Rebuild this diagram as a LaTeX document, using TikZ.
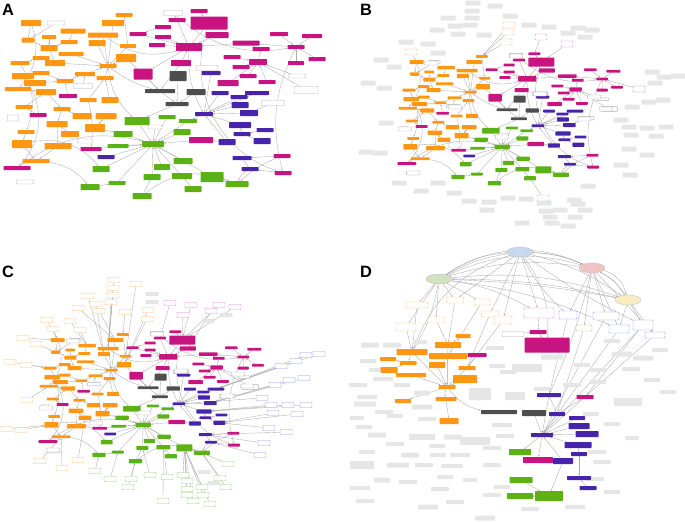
\documentclass[tikz,border=0pt]{standalone}
\usepackage{fontspec}
\setsansfont{Liberation Sans}
\usetikzlibrary{arrows.meta,shapes.geometric}
\pgfdeclarelayer{bg}
\pgfsetlayers{bg,main}
\definecolor{orng}{RGB}{255,150,20}
\definecolor{magn}{RGB}{200,20,128}
\definecolor{purp}{RGB}{72,36,170}
\definecolor{grn}{RGB}{92,178,20}
\definecolor{dgry}{RGB}{78,78,78}
\definecolor{lorng}{RGB}{255,190,120}
\definecolor{lpink}{RGB}{235,130,235}
\definecolor{lblue}{RGB}{150,150,245}
\definecolor{lgrn}{RGB}{150,205,125}
\definecolor{fog}{RGB}{230,230,230}
\definecolor{ebl}{RGB}{200,215,235}
\definecolor{epk}{RGB}{242,195,195}
\definecolor{egr}{RGB}{208,226,192}
\definecolor{eyl}{RGB}{250,236,190}

\tikzset{
  sz/.style 2 args={minimum width=#1*0.03cm, minimum height=#2*0.03cm},
  blk/.style={rectangle, rounded corners=0.6pt, inner sep=0pt, fill=#1, draw=none},
  wbox/.style={rectangle, rounded corners=0.6pt, inner sep=0pt, fill=white, draw=#1, line width=0.4pt},
  fogbox/.style={rectangle, rounded corners=0.6pt, inner sep=0pt, fill=fog, draw=none},
  stake/.style={ellipse, inner sep=0pt, fill=#1, draw=gray!50, line width=0.3pt},
  link/.style={draw=gray!65, line width=0.3pt, -{Stealth[length=1.5pt,width=1.3pt]}},
  plabel/.style={font=\sffamily\bfseries\fontsize{14}{14}\selectfont}
}

% the core network (panel A frame, pixel units)
\newcommand\drawnet[1]{%
  \foreach \n/\x/\y/\w/\h in {o1/31/23/20/6, o2/28/40/13/5, o3/49/37/14/4, o4/73/31/25/5,
      o5/69/42/17/4, o6/49/48/17/6, o7/71/54/25/4, o8/41/58/17/4, o9/20/63/19/4,
      o10/55/63/20/6, o11/113/23/22/6, o12/124/15/17/4, o13/103/35/30/5, o14/97/43/17/6,
      o15/128/46/16/4, o16/126/58/20/8, o17/108/66/17/4, o18/41/73/17/4, o19/23/76/22/6,
      o20/65/81/17/4, o21/35/83/22/6, o22/85/74/20/4, o23/105/78/17/4, o24/18/89/26/4,
      o25/46/92/20/6, o26/88/100/17/4, o27/110/100/17/6, o28/24/107/17/4, o29/62/109/17/4,
      o30/82/116/19/6, o31/106/116/21/6, o32/57/124/21/6, o33/95/128/20/8, o34/26/132/17/4,
      o35/70/134/18/6, o36/22/144/20/8, o37/58/146/27/6, o38/36/161/27/4}
    \node[blk=orng, sz={\w}{\h}] (#1-\n) at (\x,\y) {};
  \foreach \n/\x/\y/\w/\h in {m1/199/11/17/4, m2/177/20/17/4, m3/209/23/37/13, m4/138/34/17/4,
      m5/163/27/16/4, m6/163/37/16/4, m7/157/45/16/4, m8/189/47/26/8, m9/217/35/23/6,
      m10/246/43/27/5, m11/279/34/18/4, m12/312/36/20/4, m13/296/47/17/4, m14/261/49/17/4,
      m15/232/57/17/4, m16/241/67/17/4, m17/258/62/18/6, m18/317/59/17/4, m19/296/63/16/4,
      m20/181/63/20/6, m21/143/74/19/11, m22/228/83/21/6, m23/248/76/17/4, m24/267/82/17/4,
      m25/68/96/18/4, m26/38/115/17/4, m27/201/140/24/6, m28/91/149/21/4, m29/282/156/17/4,
      m30/283/173/17/4, m31/17/168/27/4}
    \node[blk=magn, sz={\w}{\h}] (#1-\n) at (\x,\y) {};
  \foreach \n/\x/\y/\w/\h in {k1/178/76/17/10, k2/160/91/30/4, k3/196/92/19/6, k4/177/104/23/4}
    \node[blk=dgry, sz={\w}{\h}] (#1-\n) at (\x,\y) {};
  \foreach \n/\x/\y/\w/\h in {p1/211/73/19/4, p2/220/93/17/4, p3/239/97/17/4, p4/257/93/24/4,
      p5/240/105/17/6, p6/204/114/18/4, p7/249/113/18/6, p8/240/125/22/6, p9/265/130/17/4,
      p10/242/134/17/4, p11/262/141/17/6, p12/227/142/17/6, p13/106/157/17/4,
      p14/242/158/19/4, p15/250/169/17/4}
    \node[blk=purp, sz={\w}{\h}] (#1-\n) at (\x,\y) {};
  \foreach \n/\x/\y/\w/\h in {g1/137/121/25/8, g2/167/117/17/4, g3/188/121/18/4, g4/123/134/19/6,
      g5/182/132/17/6, g6/153/144/22/6, g7/118/146/21/4, g8/183/161/19/6, g9/162/167/16/6,
      g10/101/169/17/6, g11/212/177/23/10, g12/182/176/20/6, g13/152/177/17/6,
      g14/117/183/17/4, g15/237/184/23/6, g16/90/187/19/6, g17/193/189/17/6, g18/142/196/19/6}
    \node[blk=grn, sz={\w}{\h}] (#1-\n) at (\x,\y) {};
  \foreach \n/\x/\y/\w/\h in {w1/56/23/17/4, w2/173/13/19/5, w3/83/86/19/5, w4/13/118/11/6,
      w5/85/141/15/4, w6/155/127/14/4, w7/25/182/17/4, w8/207/68/22/5, w9/273/103/23/5,
      w10/297/76/17/4, w11/306/90/24/7}
    \node[wbox=gray!60, sz={\w}{\h}] (#1-\n) at (\x,\y) {};
  \begin{pgfonlayer}{bg}
    \foreach \s/\t in {o1/o2, w1/o2, o3/o6, o2/o6, o4/o5, o5/o6, o6/o10, o8/o10, o9/o8,
        o10/o17, o7/o17, o11/o17, o12/o15, o13/o17, o14/o17, o15/o17, o16/o17, o22/o17,
        o23/o17, o26/o23, o27/o23, o18/o20, o19/o18, o20/o22, o21/o20, o24/o25, o25/o29,
        o28/o25, o29/o32, o30/o29, o31/o33, o32/o37, o33/o31, o34/o36, o35/o32, o36/o38,
        o37/o38, m25/o20, m26/o28, w3/o22,
        m5/m4, m4/m8, m6/m8, m7/m8, m2/m8, m3/m8, m1/m3, w2/m2, m9/m8, m10/m8, m14/m10,
        m13/m10, m11/m13, m12/m13, m18/m13, m19/m13, m17/m14, m15/m17, m16/m17, m22/m17,
        m23/m17, m24/m17, w10/m17, w11/m17, m20/m8, m8/m21,
        m21/k2, m20/k2, o16/k2, k1/k4, k2/k4, k3/k4, k4/g1, w8/p1,
        p1/p6, p2/p6, p3/p6, p4/p6, p5/p6, p7/p6, p8/p6, p12/p6, p9/p10, p10/p8, p11/p10,
        w9/p7, p14/p15, m29/p14, m30/p15,
        g1/g6, g2/g6, g3/g6, g4/g6, g5/g6, g7/g6, g8/g6, g9/g6, g10/g6, g11/g6, g12/g6,
        g13/g6, g14/g6, g16/g14, g17/g12, g18/g13, g15/g11, m27/g6, m28/g6, p13/g6, w6/g6,
        p6/g3, p12/m27, o33/g4}
      \draw[link] (#1-\s) -- (#1-\t);
    \foreach \s/\t/\b in {o19/m31/40, m31/g6/25, o17/g1/-20, m3/m30/-45, m29/g15/-10,
        g18/g15/30, m13/m30/-20, o1/o24/30, o13/m8/-25, w2/m13/-25, o36/g10/30, m8/p6/-15,
        o38/g16/20, p15/g15/-20, o26/m28/10, o9/o34/25, k2/o17/10}
      \draw[link] (#1-\s) to[bend left=\b] (#1-\t);
  \end{pgfonlayer}
}

\begin{document}
\begin{tikzpicture}[x=0.03cm, y=-0.03cm]
  \useasboundingbox (0,0) rectangle (685,522);

  % panel labels
  \node[plabel] (labA) at (8,10) {A};
  \node[plabel] (labB) at (366,10) {B};
  \node[plabel] (labC) at (8,272) {C};
  \node[plabel] (labD) at (366,272) {D};

  %% panel A
  \drawnet{A}

  %% panel B
  \foreach \x/\y in {473/3, 495/6, 472/11, 448/18, 472/18, 510/16, 437/30, 455/26, 470/25,
      458/34, 484/35, 529/25, 549/27, 568/33, 578/28, 592/30, 585/37, 406/42, 428/44, 438/53,
      381/60, 394/67, 368/83, 384/88, 652/72, 664/77, 678/76, 655/83, 649/102, 663/100,
      632/107, 621/120, 629/127, 647/128, 666/127, 631/135, 656/136, 629/149, 647/155,
      621/165, 630/175, 588/186, 386/123, 366/152, 380/153, 399/183, 421/191, 438/183,
      454/193, 469/201, 489/202, 487/210, 508/198, 526/199, 544/203, 546/211, 560/210,
      574/200, 578/204, 585/210, 550/217, 552/223, 522/223, 568/226, 575/217}
    \node[fogbox, sz={15}{5}] at (\x,\y) {};
  \begin{scope}[shift={(395,46)}, scale=0.7, transform shape]
    \drawnet{B}
  \end{scope}
  \foreach \n/\x/\y/\c/\t in {bs1/509/25/lorng/o12, bs2/508/32/lorng/o12, bs3/506/42/lorng/o12,
      bs4/411/52/lorng/o1, bs5/541/37/lpink/m1, bs6/567/44/lpink/m3, bs7/639/89/lblue/m13,
      bs8/543/198/lgrn/g17}
    \node[wbox=\c, sz={12}{6}] (\n) at (\x,\y) {};
  \begin{pgfonlayer}{bg}
    \foreach \n/\t in {bs1/o12, bs2/o12, bs3/o12, bs4/o1, bs5/m1, bs6/m3, bs7/m13, bs8/g17}
      \draw[link] (\n) -- (B-\t);
  \end{pgfonlayer}
  \foreach \x/\y in {516/56, 431/63, 540/94, 455/107, 606/109, 584/119, 405/129, 502/137,
      455/145, 594/97, 413/173}
    \node[wbox=gray!60, sz={13}{4}] at (\x,\y) {};

  %% panel C
  \foreach \x/\y in {152/294, 152/302, 208/321, 226/315, 204/472, 214/483}
    \node[fogbox, sz={13}{4}] at (\x,\y) {};
  \begin{scope}[shift={(36,324)}, scale=0.7, transform shape]
    \drawnet{C}
  \end{scope}
  \foreach \x/\y/\c/\t [count=\i] in {114/280/lorng/o13, 113/288/lorng/o13, 113/295/lorng/o13,
      111/302/lorng/o13, 136/284/lorng/o15, 88/296/lorng/o14, 96/304/lorng/o14,
      99/311/lorng/o11, 78/308/lorng/o11, 125/312/lorng/o12, 148/310/lorng/o16,
      147/319/lorng/o16, 47/320/lorng/o1, 53/329/lorng/o1, 70/321/lorng/o4, 80/330/lorng/o4,
      23/338/lorng/o1, 36/344/lorng/o2, 10/362/lorng/o9, 26/365/lorng/o9, 27/400/lorng/o24,
      7/429/lorng/o36, 21/430/lorng/o36, 40/461/lorng/o38, 62/468/lorng/o38, 78/460/lorng/o35,
      170/303/lpink/m2, 191/305/lpink/m3, 183/315/lpink/m3, 219/305/lpink/m3,
      235/307/lpink/m3, 211/311/lpink/m9,
      319/354/lblue/p4, 306/355/lblue/p4, 296/361/lblue/p4, 281/366/lblue/p4,
      304/378/lblue/p7, 289/380/lblue/p7, 275/385/lblue/p7, 262/398/lblue/p6,
      271/405/lblue/p8, 288/405/lblue/p8, 306/405/lblue/p8, 273/413/lblue/p11,
      297/414/lblue/p11, 269/428/lblue/p11, 286/432/lblue/p14, 264/443/lblue/p14,
      260/455/lblue/p15,
      228/464/lgrn/g15, 220/478/lgrn/g15, 226/487/lgrn/g15, 95/471/lgrn/g16,
      110/479/lgrn/g14, 131/479/lgrn/g18, 128/487/lgrn/g18, 150/475/lgrn/g13,
      167/477/lgrn/g12, 183/475/lgrn/g11, 187/481/lgrn/g11, 187/489/lgrn/g11,
      187/495/lgrn/g11, 193/501/lgrn/g11, 202/487/lgrn/g11, 203/495/lgrn/g11,
      210/504/lgrn/g11, 163/501/lgrn/g12}
  {
    \node[wbox=\c, sz={12}{5}] (cs\i) at (\x,\y) {};
    \begin{pgfonlayer}{bg}
      \draw[link] (cs\i) -- (C-\t);
    \end{pgfonlayer}
  }
  \foreach \x/\y in {157/334, 73/341, 181/371, 238/374, 247/386, 227/396, 46/408, 144/413,
      96/423, 53/450}
    \node[wbox=gray!60, sz={13}{4}] at (\x,\y) {};

  %% panel D
  \foreach \x/\y/\w/\h in {370/345/18/5, 392/345/18/5, 368/361/16/4, 378/370/18/4,
      495/348/18/4, 552/357/22/5, 622/354/20/5, 643/358/20/5, 631/369/18/4, 652/380/16/4,
      598/370/18/4, 582/365/16/4, 527/368/30/8, 497/366/16/4, 383/379/20/4, 358/385/18/4,
      402/385/16/4, 367/397/20/4, 422/393/16/5, 480/394/22/12, 515/396/20/8, 542/389/16/4,
      572/385/18/4, 598/382/16/4, 628/402/28/8, 591/414/16/4, 612/424/16/4, 365/404/22/5,
      384/412/18/4, 395/416/16/4, 422/407/20/5, 427/419/18/4, 364/427/16/4, 377/435/18/5,
      395/444/18/4, 422/437/26/6, 437/446/16/4, 453/437/18/5, 475/441/30/8, 505/436/18/4,
      502/425/20/4, 367/452/16/4, 410/455/18/5, 438/455/16/4, 460/455/20/4, 492/448/18/4,
      362/465/24/8, 398/465/22/5, 424/465/18/4, 452/466/22/4, 492/465/18/4, 382/480/16/5,
      360/488/20/4, 408/482/18/4, 445/477/16/4, 440/489/18/4, 455/502/18/4, 428/507/20/5,
      365/501/18/4, 492/495/18/4, 502/487/16/4, 485/518/20/5, 530/509/18/4, 597/452/18/4,
      602/462/18/4, 595/479/18/4, 612/492/16/4, 575/507/20/4, 420/342/14/4, 508/372/16/4,
      612/341/16/4, 660/350/16/4, 668/392/16/4, 632/438/14/4, 357/418/14/4, 470/480/14/4}
    \node[fogbox, sz={\w}{\h}] at (\x,\y) {};
  \foreach \n/\x/\y/\c in {e1/520/252/ebl, e2/592/268/epk, e3/439/279/egr, e4/628/300/eyl}
    \node[stake=\c, sz={26}{10}] (D-\n) at (\x,\y) {};
  \foreach \n/\x/\y/\w/\h/\c in {lo1/417/305/22/6/lorng, lo2/455/300/17/6/lorng,
      lo3/482/302/16/6/lorng, lo4/490/314/17/6/lorng, lo5/503/320/18/8/lorng,
      lo6/406/327/20/8/lorng, lo7/436/320/16/6/lorng, lp/539/313/30/10/lpink,
      lb1/568/315/18/8/lblue, lb2/606/316/26/8/lblue, lb3/619/329/20/8/lblue,
      lb4/643/325/20/10/lblue, lb5/655/335/20/6/lblue, lg/584/328/16/6/lgrn,
      lw/513/334/22/5/gray!60}
    \node[wbox=\c, sz={\w}{\h}] (D-\n) at (\x,\y) {};
  \foreach \n/\x/\y/\w/\h in {o1/463/336/15/4, o2/448/345/26/6, o3/412/352/31/6,
      o4/388/359/16/4, o5/408/363/17/4, o6/389/370/17/6, o7/411/375/30/4, o8/448/356/38/6,
      o9/437/365/16/6, o10/467/368/17/4, o11/465/379/24/8, o12/447/387/17/4,
      o13/446/399/21/4, o14/403/401/16/4, o15/449/421/19/6}
    \node[blk=orng, sz={\w}{\h}] (D-\n) at (\x,\y) {};
  \foreach \n/\x/\y/\w/\h in {m1/538/332/17/4, m2/547/345/45/15, m3/477/355/19/4,
      m4/585/397/17/4, m5/538/460/30/6}
    \node[blk=magn, sz={\w}{\h}] (D-\n) at (\x,\y) {};
  \foreach \n/\x/\y/\w/\h in {k1/499/412/36/4, k2/534/413/24/6}
    \node[blk=dgry, sz={\w}{\h}] (D-\n) at (\x,\y) {};
  \foreach \n/\x/\y/\w/\h in {p1/549/395/24/4, p2/557/414/16/4, p3/577/418/16/4,
      p4/579/426/21/6, p5/587/434/23/6, p6/542/435/22/4, p7/578/445/27/6, p8/579/454/16/4,
      p9/563/461/20/6, p10/579/478/24/4, p11/588/488/17/4}
    \node[blk=purp, sz={\w}{\h}] (D-\n) at (\x,\y) {};
  \foreach \n/\x/\y/\w/\h in {g1/520/452/22/6, g2/521/480/23/6, g3/520/496/26/6,
      g4/549/496/28/10}
    \node[blk=grn, sz={\w}{\h}] (D-\n) at (\x,\y) {};
  \begin{pgfonlayer}{bg}
    \foreach \s/\t/\b in {e3/e1/15, e1/e3/-10, e1/e2/10, e2/e1/-10, e3/e2/20, e2/e3/-12,
        e3/e2/28, e3/e4/12, e4/e3/-6, e3/e4/4, e2/e4/15, e4/e2/-15, e1/e4/10, e3/lp/10,
        e1/o3/-25, e3/o3/10, e2/p1/5, e1/m2/20, e3/lb3/8, e1/lb4/-5, o12/k1/-20,
        o12/o13/-20, e2/e4/30, e1/lb1/-10}
      \draw[link] (D-\s) to[bend left=\b] (D-\t);
    \foreach \s/\t in {e3/lo1, e3/lo2, e3/lo3, e3/lo6, e3/lo7, e1/lo4, e1/lo5, e1/lp,
        e1/lo2, e2/lb1, e2/lb2, e2/lg, e2/lb3, e4/lb3, e4/lb4, e4/lb5, e2/lb5,
        lo1/o3, lo6/o3, lo2/o2, lo7/o2, lo3/o8, lo4/o10, lo5/o10, lw/m1, m1/m2, lp/m1,
        o1/o2, o2/o12, o3/o5, o4/o5, o6/o5, o7/o12, o3/o12, o8/o12, o9/o12, o10/o12,
        o11/o12, o12/o14, o13/o15, m3/o10,
        lb1/p1, lg/p2, lb2/p6, lb3/p6, lb4/p6, lb5/p6, lb4/m4,
        p1/p6, p2/p6, p3/p6, p4/p6, p5/p6, p7/p6, p9/p6, k2/p6, p7/p8, p8/p10, p11/p10,
        m4/p2, p6/g1, p6/m5, p9/g4, g2/g4, g3/g4, p1/p2}
      \draw[link] (D-\s) -- (D-\t);
  \end{pgfonlayer}
\end{tikzpicture}
\end{document}
